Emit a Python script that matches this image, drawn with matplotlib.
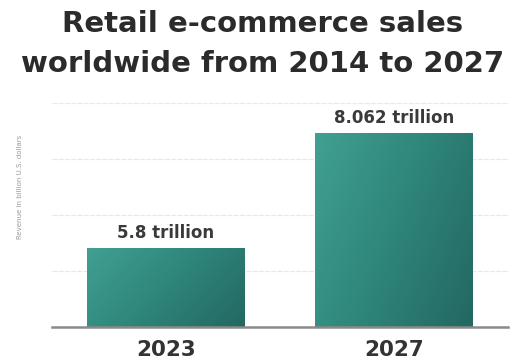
import numpy as np
import matplotlib.pyplot as plt
from matplotlib.colors import LinearSegmentedColormap

years = ["2023", "2027"]
sales = [5800, 8062]          # billion U.S. dollars
labels = ["5.8 trillion", "8.062 trillion"]

fig = plt.figure(figsize=(5.25, 3.61), dpi=100)
ax = fig.add_axes([52 / 525, 34 / 361, 456 / 525, 224 / 361])

ylo, yhi = 4245, 8655
ax.set_xlim(-0.5, 1.5)
ax.set_ylim(ylo, yhi)

cmap = LinearSegmentedColormap.from_list("teal", ["#40a091", "#2f857a", "#236862"])
grad = np.add.outer(np.linspace(0, 0.35, 50), np.linspace(0, 0.75, 100))

bars = ax.bar(range(len(years)), sales, width=0.69, bottom=0, color="none", zorder=3)
for b in bars:
    x0, w, h = b.get_x(), b.get_width(), b.get_height()
    im = ax.imshow(grad, cmap=cmap, vmin=0, vmax=1.1, aspect="auto",
                   extent=[x0, x0 + w, ylo, h], origin="upper", zorder=3)
    im.set_clip_path(b)

for i, (v, lab) in enumerate(zip(sales, labels)):
    ax.text(i, v + 120, lab, ha="center", va="bottom", fontsize=12,
            fontweight="bold", color="#3a3a3a")

ax.set_yticks(np.linspace(ylo, yhi, 5)[1:])
ax.yaxis.grid(True, color="#e8e8e8", linestyle=(0, (4, 1)), linewidth=0.9, zorder=0)
ax.tick_params(axis="y", length=0, labelleft=False)
ax.set_xticks(range(len(years)))
ax.set_xticklabels(years, fontsize=15.5, fontweight="bold", color="#333333")
ax.tick_params(axis="x", length=0, pad=9)
for s in ["top", "right", "left"]:
    ax.spines[s].set_visible(False)
ax.spines["bottom"].set_color("#8a8a8a")
ax.spines["bottom"].set_linewidth(1.8)
ax.spines["bottom"].set_zorder(4)

fig.text(20 / 525, 1 - 187 / 361, "Revenue in billion U.S. dollars", rotation=90,
         ha="center", va="center", fontsize=5, color="#9a9a9a")

fig.text(0.5, 1 - 44 / 361, "Retail e-commerce sales\nworldwide from 2014 to 2027",
         ha="center", va="center", fontsize=21, fontweight="bold", color="#2b2b2b",
         linespacing=1.55)

fig.savefig("out.png", dpi=100)
